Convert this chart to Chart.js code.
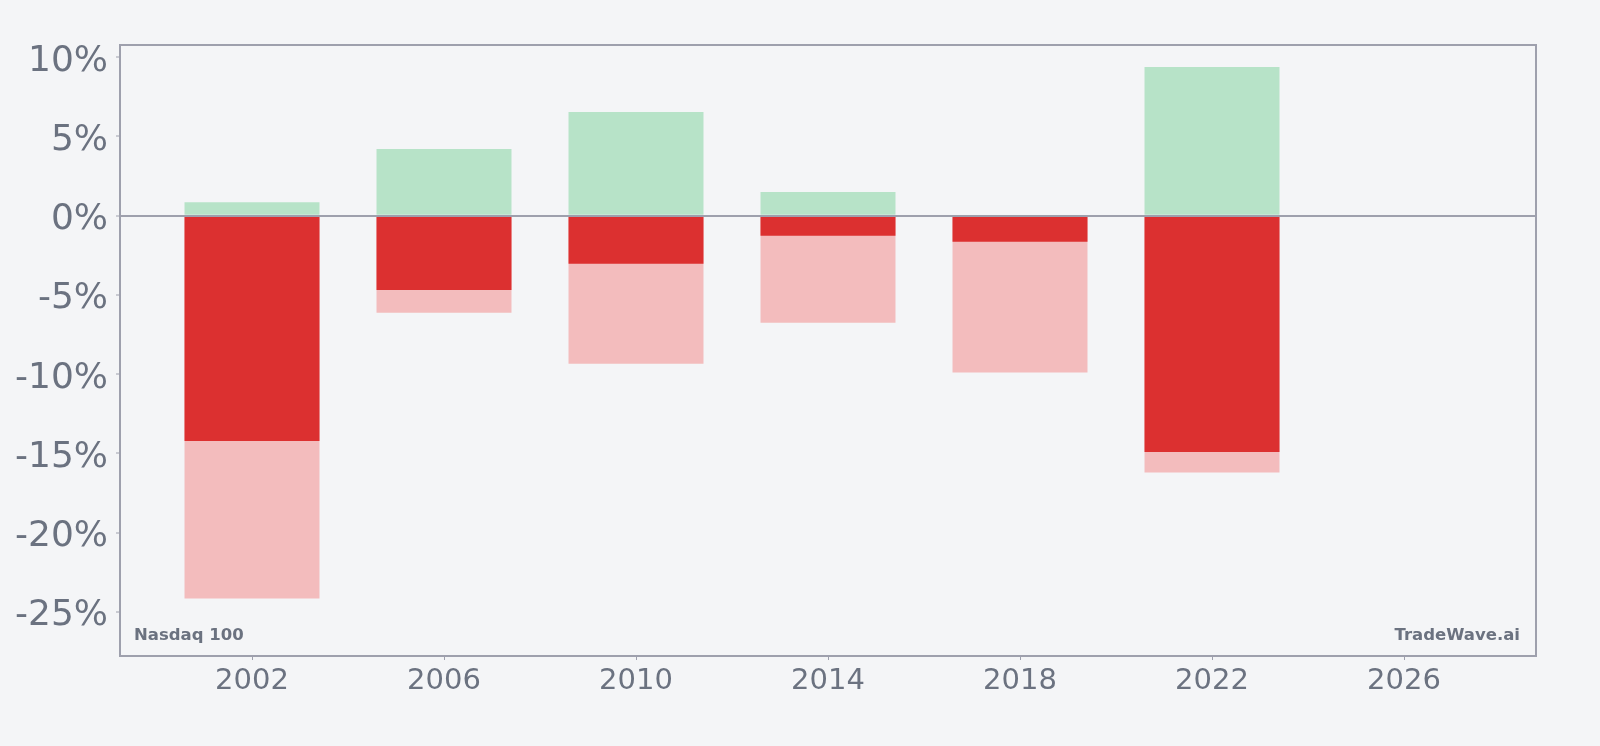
<!DOCTYPE html>
<html>
<head>
<meta charset="utf-8">
<script src="https://cdn.jsdelivr.net/npm/chart.js@4/dist/chart.umd.min.js"></script>
<style>
  html, body { margin: 0; padding: 0; background: #f4f5f7; }
  #wrap { width: 1600px; height: 746px; }
</style>
</head>
<body>
<div id="wrap"><canvas id="c" width="1600" height="746"></canvas></div>
<script>
// ---- data ----
const years       = [2002, 2006, 2010, 2014, 2018, 2022];
const maxGain     = [0.85, 4.21, 6.54, 1.50, 0, 9.38];
const yearReturn  = [-14.21, -4.69, -3.03, -1.26, -1.64, -14.91];
const maxDrawdown = [-24.16, -6.12, -9.34, -6.75, -9.90, -16.21];
const xTickYears  = [2002, 2006, 2010, 2014, 2018, 2022, 2026];
const yTickValues = [-25, -20, -15, -10, -5, 0, 5, 10];
const indexName   = 'Nasdaq 100';
const brandName   = 'TradeWave.ai';

const TEXT = '#6b7280';
const FRAME = '#9ea0ad';
const FONT = "'DejaVu Sans', sans-serif";

const pts = arr => years.map((x, i) => ({ x: x, y: arr[i] }));

const framePlugin = {
  id: 'frame',
  afterDraw(chart) {
    const { ctx, chartArea: a } = chart;
    ctx.save();
    ctx.strokeStyle = FRAME;
    ctx.lineWidth = 2;
    ctx.strokeRect(a.left, a.top, a.right - a.left, a.bottom - a.top);
    ctx.fillStyle = TEXT;
    ctx.font = "bold 16.5px " + FONT;
    ctx.textBaseline = 'alphabetic';
    ctx.textAlign = 'left';
    ctx.fillText(indexName, a.left + 14, a.bottom - 16.5);
    ctx.textAlign = 'right';
    ctx.fillText(brandName, a.right - 16, a.bottom - 16.5);
    ctx.restore();
  }
};

new Chart(document.getElementById('c'), {
  type: 'bar',
  data: {
    datasets: [
      { label: 'Max gain', data: pts(maxGain), backgroundColor: '#b7e3c8', order: 1 },
      { label: 'Return', data: pts(yearReturn), backgroundColor: '#dc3030', order: 2 },
      { label: 'Max drawdown', data: pts(maxDrawdown), backgroundColor: '#f3bcbd', order: 3 }
    ]
  },
  options: {
    responsive: false,
    animation: false,
    datasets: { bar: { grouped: false, categoryPercentage: 1, barPercentage: 0.703, borderWidth: 0 } },
    layout: { padding: { top: 45, right: 64, bottom: 0, left: 0 } },
    plugins: { legend: { display: false }, tooltip: { enabled: false } },
    scales: {
      x: {
        type: 'linear',
        min: 1999.25,
        max: 2028.75,
        offset: false,
        afterFit(s) { s.height = 90; },
        afterBuildTicks(s) { s.ticks = xTickYears.map(v => ({ value: v })); },
        border: { display: false },
        grid: { offset: false, color: 'transparent', tickColor: FRAME, tickLength: 4, tickWidth: 1 },
        ticks: {
          color: TEXT,
          font: { family: FONT, size: 29 },
          padding: 4,
          maxRotation: 0,
          autoSkip: false,
          callback: v => String(v)
        }
      },
      y: {
        type: 'linear',
        min: -27.78,
        max: 10.77,
        afterFit(s) { s.width = 120; },
        afterBuildTicks(s) { s.ticks = yTickValues.map(v => ({ value: v })); },
        border: { display: false },
        grid: {
          z: 1,
          offset: false,
          color: c => (c.tick && c.tick.value === 0) ? FRAME : 'transparent',
          lineWidth: 2,
          tickColor: FRAME,
          tickLength: 4,
          tickWidth: 1
        },
        ticks: {
          color: TEXT,
          font: { family: FONT, size: 36 },
          padding: 8,
          labelOffset: 4,
          autoSkip: false,
          callback: v => v + '%'
        }
      }
    }
  },
  plugins: [framePlugin]
});
</script>
</body>
</html>
